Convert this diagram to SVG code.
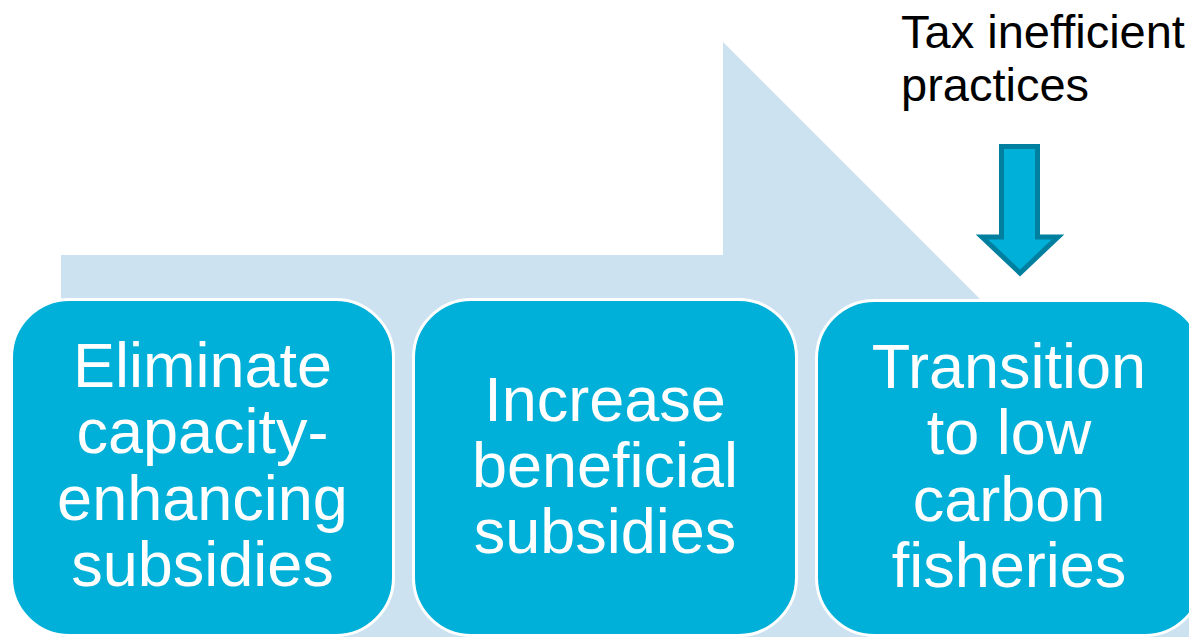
<svg xmlns="http://www.w3.org/2000/svg" width="1189" height="637" viewBox="0 0 1189 637">
<style>
.box{fill:#00B0D8;stroke:#FFFFFF;stroke-width:3}
.bt{font-family:"Liberation Sans",Arial,sans-serif;font-size:63px;fill:#FFFFFF;text-anchor:middle}
.lbl{font-family:"Liberation Sans",Arial,sans-serif;font-size:47px;fill:#000000}
</style>
<rect x="0" y="0" width="1189" height="637" fill="#FFFFFF"/>
<g id="background-arrow">
<polygon points="61,255 723,255 723,42 1318,637 61,637" fill="#CCE2F0"/>
</g>
<g id="node1">
<rect class="box" x="11.5" y="299.5" width="382" height="336" rx="58"/>
<text class="bt" x="202.5"><tspan x="202.5" y="387">Eliminate</tspan><tspan x="202.5" y="453">capacity-</tspan><tspan x="202.5" y="520">enhancing</tspan><tspan x="202.5" y="586">subsidies</tspan></text>
</g>
<g id="node2">
<rect class="box" x="413.5" y="299.5" width="383" height="336" rx="58"/>
<text class="bt" x="605"><tspan x="605" y="421">Increase</tspan><tspan x="605" y="487">beneficial</tspan><tspan x="605" y="553">subsidies</tspan></text>
</g>
<g id="node3">
<rect class="box" x="816.5" y="300.5" width="386" height="335" rx="58"/>
<text class="bt" x="1009"><tspan x="1009" y="388">Transition</tspan><tspan x="1009" y="454">to low</tspan><tspan x="1009" y="521">carbon</tspan><tspan x="1009" y="587">fisheries</tspan></text>
</g>
<g id="node-tax">
<text class="lbl" x="901"><tspan x="901" y="48">Tax inefficient</tspan><tspan x="901" y="101">practices</tspan></text>
</g>
<g id="connectors">
<polygon points="1001.5,146.5 1037.5,146.5 1037.5,237 1058,237 1020,273 982,237 1001.5,237" fill="#00B0D8" stroke="#007F9F" stroke-width="5" stroke-linejoin="miter"/>
</g>
</svg>
